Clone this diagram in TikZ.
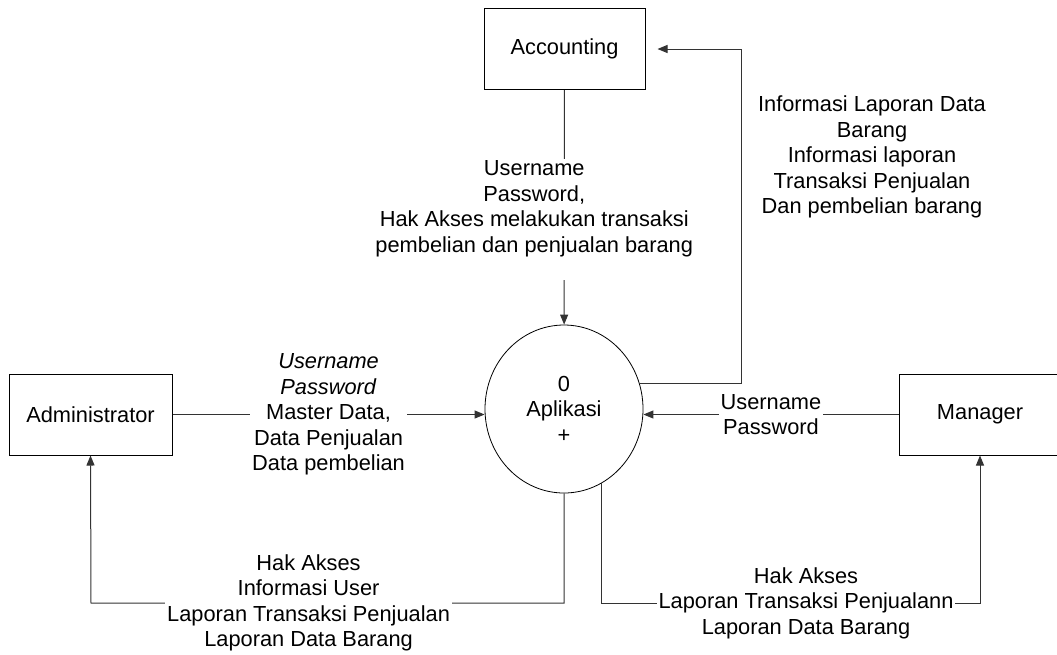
\documentclass[tikz,border=0pt]{standalone}
\usepackage{fontspec}
\setmainfont{Liberation Sans}
\usetikzlibrary{arrows.meta,shapes.geometric}

\begin{document}
\begin{tikzpicture}[x=1pt,y=-1pt,
    every node/.style={font=\fontsize{21.8}{25.5}\selectfont},
    entity/.style={draw, line width=1pt, minimum width=161pt, minimum height=81pt, inner sep=0pt},
    process/.style={ellipse, draw, line width=0.8pt, minimum width=158pt, minimum height=168pt, align=center, inner sep=0pt},
    flow/.style={draw=black!80, line width=1pt, -{Triangle[length=10pt,width=8pt]}},
    lbl/.style={fill=white, align=center, inner sep=2pt}]

    \useasboundingbox (0,0) rectangle (1057,654);

    % external entities and the process
    \node[entity] (accounting) at (564.5,49) {Accounting};
    \node[entity, minimum width=163pt] (admin) at (90.5,414.5) {Administrator};
    \node[entity, minimum width=162pt] (manager) at (980,414.5) {Manager};
    \node[process] (proc) at (564,409) {0\\Aplikasi\\+};

    \coordinate (adm-low) at (91,603);
    \coordinate (mgr-low) at (980,603);

    % flows into the process
    \draw[flow] (accounting) -- (proc)
        node[lbl, pos=0.55, xshift=-30pt] {Username\\Password,\\Hak Akses melakukan transaksi\\pembelian dan penjualan barang\\\mbox{}};
    \draw[flow] (admin) -- (admin -| proc.west)
        node[lbl, midway] {\textit{Username}\\\textit{Password}\\Master Data,\\Data Penjualan\\Data pembelian};
    \draw[flow] (manager) -- (manager -| proc.east)
        node[lbl, midway] {Username\\Password};

    % flows out of the process
    \draw[flow] (proc.19) -| ([xshift=96pt]accounting.east) -- ([xshift=12pt]accounting.east);
    \node[lbl] (acc-info) at (872,157) {Informasi Laporan Data\\Barang\\Informasi laporan\\Transaksi Penjualan\\Dan pembelian barang};

    \draw[flow] (proc.south) |- (adm-low)
        node[lbl, pos=0.77] {Hak Akses\\Informasi User\\Laporan Transaksi Penjualan\\Laporan Data Barang}
        -- (admin.south);
    \draw[flow] (proc.-63) |- (mgr-low)
        node[lbl, pos=0.77] {Hak Akses\\Laporan Transaksi Penjualann\\Laporan Data Barang}
        -- (manager.south);

\end{tikzpicture}
\end{document}
